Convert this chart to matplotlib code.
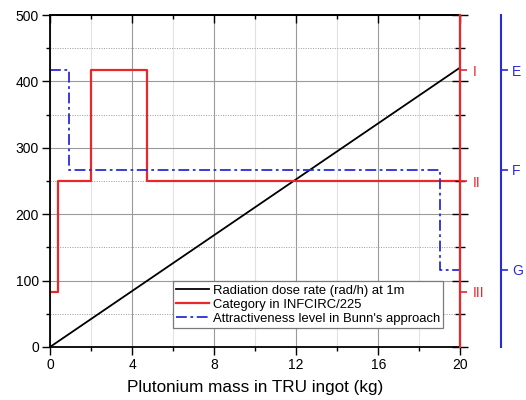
import matplotlib
matplotlib.use("Agg")
import matplotlib.pyplot as plt
from matplotlib.ticker import MultipleLocator

plt.rcParams['font.family'] = ['Liberation Sans', 'DejaVu Sans']

# data
mass = [0, 20]
dose = [0, 421]

cat_x = [0, 0.4, 2.0, 4.75, 20]
cat_y = [83.3, 250, 416.7, 250, 250]

bunn_x = [0, 0.95, 19.0, 20]
bunn_y = [416.7, 266.7, 116.7, 116.7]

cat_ticks = [416.7, 250, 83.3]
cat_labels = ['I', 'II', 'III']
bunn_ticks = [416.7, 266.7, 116.7]
bunn_labels = ['E', 'F', 'G']

RED = '#e8262b'
BLUE = '#2b2bd6'

fig = plt.figure(figsize=(5.26, 4.0), dpi=100)
ax = fig.add_axes([0.095, 0.1325, 0.78, 0.83])

ax.plot(mass, dose, color='black', lw=1.3, label='Radiation dose rate (rad/h) at 1m')
ax.step(cat_x, cat_y, where='post', color=RED, lw=1.6, label='Category in INFCIRC/225')
ax.step(bunn_x, bunn_y, where='post', color=BLUE, lw=1.3, ls=(0, (6, 2, 1.5, 2)),
        label="Attractiveness level in Bunn's approach")

ax.set_xlim(0, 20)
ax.set_ylim(0, 500)
ax.xaxis.set_major_locator(MultipleLocator(4))
ax.xaxis.set_minor_locator(MultipleLocator(2))
ax.yaxis.set_major_locator(MultipleLocator(100))
ax.yaxis.set_minor_locator(MultipleLocator(50))
ax.tick_params(which='major', direction='out', length=6, width=1, labelsize=10, pad=2)
ax.tick_params(which='minor', direction='out', length=3, width=1)

ax.grid(which='major', color='#9a9a9a', lw=0.8)
ax.grid(which='minor', axis='y', color='#9a9a9a', lw=0.7, ls=(0, (1, 1.5)))
ax.grid(which='minor', axis='x', color='#e2e2e2', lw=0.8)
ax.set_axisbelow(True)

for s in ['left', 'bottom', 'top']:
    ax.spines[s].set_linewidth(1.3)
ax.spines['right'].set_color(RED)
ax.spines['right'].set_linewidth(1.5)

ax.set_xlabel('Plutonium mass in TRU ingot (kg)', fontsize=12.3, labelpad=6)

# mirrored ticks on top (inward)
top = ax.twiny()
top.set_xlim(0, 20)
top.xaxis.set_major_locator(MultipleLocator(4))
top.xaxis.set_minor_locator(MultipleLocator(2))
top.tick_params(which='major', direction='in', length=6, width=1, color='black', labeltop=False)
top.tick_params(which='minor', direction='in', length=3, width=1, color='black')
for s in ['left', 'right', 'bottom']:
    top.spines[s].set_visible(False)
top.spines['top'].set_linewidth(1.3)

# mirrored ticks on right (in-out)
rt = ax.twinx()
rt.set_ylim(0, 500)
rt.yaxis.set_major_locator(MultipleLocator(100))
rt.yaxis.set_minor_locator(MultipleLocator(50))
rt.tick_params(which='major', direction='inout', length=11, width=1, color='black', labelright=False)
rt.tick_params(which='minor', direction='inout', length=7, width=1, color='black')
for s in ['left', 'top', 'bottom']:
    rt.spines[s].set_visible(False)
rt.spines['right'].set_color(RED)
rt.spines['right'].set_linewidth(1.5)

# category axis (red)
axr = ax.twinx()
axr.set_ylim(0, 500)
axr.set_yticks(cat_ticks)
axr.set_yticklabels(cat_labels)
axr.tick_params(axis='y', colors=RED, direction='out', length=5, width=1.2, labelsize=10, pad=4)
for s in ['left', 'top', 'bottom']:
    axr.spines[s].set_visible(False)
axr.spines['right'].set_color(RED)
axr.spines['right'].set_linewidth(1.5)

# attractiveness axis (blue)
axb = ax.twinx()
axb.set_ylim(0, 500)
axb.spines['right'].set_position(('outward', 29.5))
axb.set_yticks(bunn_ticks)
axb.set_yticklabels(bunn_labels)
axb.tick_params(axis='y', colors=BLUE, direction='out', length=5, width=1.2, labelsize=10, pad=3)
for s in ['left', 'top', 'bottom']:
    axb.spines[s].set_visible(False)
axb.spines['right'].set_color(BLUE)
axb.spines['right'].set_linewidth(1.5)

leg = ax.legend(loc='lower right', bbox_to_anchor=(0.959, 0.057), borderaxespad=0,
                fontsize=9.4, handlelength=2.5, handletextpad=0.3, labelspacing=0.15,
                borderpad=0.25, fancybox=False, framealpha=1, edgecolor='#7a7a7a')
leg.get_frame().set_linewidth(0.9)

fig.savefig('out.png', dpi=100)
